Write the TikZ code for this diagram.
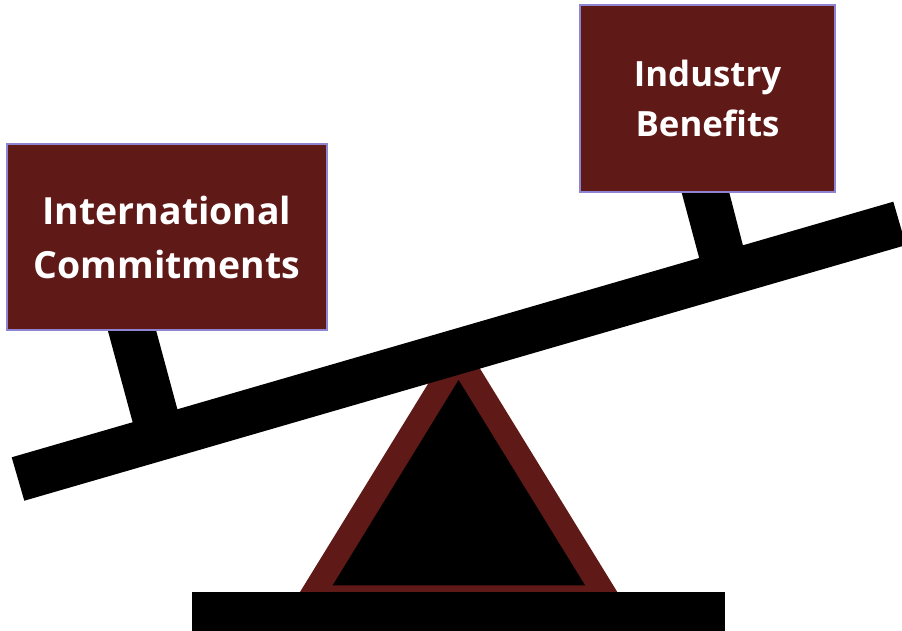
\documentclass[tikz,border=0pt]{standalone}
\usepackage{fontspec}
\setmainfont{Open Sans}
\definecolor{boxred}{HTML}{5F1917}
\definecolor{boxline}{HTML}{8E84D2}
\tikzset{
  labelbox/.style={draw=boxline, line width=1.8pt, fill=boxred, text=white,
    font=\bfseries, align=center, inner sep=0pt}
}
\begin{document}
\begin{tikzpicture}[x=1pt,y=-1pt]
\useasboundingbox (0,0) rectangle (902,630);
% fulcrum
\fill[boxred] (300,592) -- (617.3,592) -- (458.7,334) -- cycle;
\fill[black] (332.7,585.3) -- (585,585.3) -- (458.6,380) -- cycle;
% base bar
\fill[black] (192.3,592.3) rectangle (725,632);
% beam
\fill[black] (11.7,457.3) -- (893.3,201.7) -- (905.9,245.1) -- (24.3,500.7) -- cycle;
% posts
\fill[black] (105,320) -- (153.3,320) -- (183,430) -- (138,442) -- cycle;
\fill[black] (678.3,180) -- (726,180) -- (748,265) -- (704,276) -- cycle;
% boxes
\node[labelbox, minimum width=319.4pt, minimum height=185.7pt,
  font=\bfseries\fontsize{37.4}{54}\selectfont] (intl) at (167,237.2)
  {International\\Commitments};
\node[labelbox, minimum width=255pt, minimum height=186.7pt,
  font=\bfseries\fontsize{34.8}{50}\selectfont] (ind) at (707.5,98.3)
  {Industry\\Benefits};
\end{tikzpicture}
\end{document}
